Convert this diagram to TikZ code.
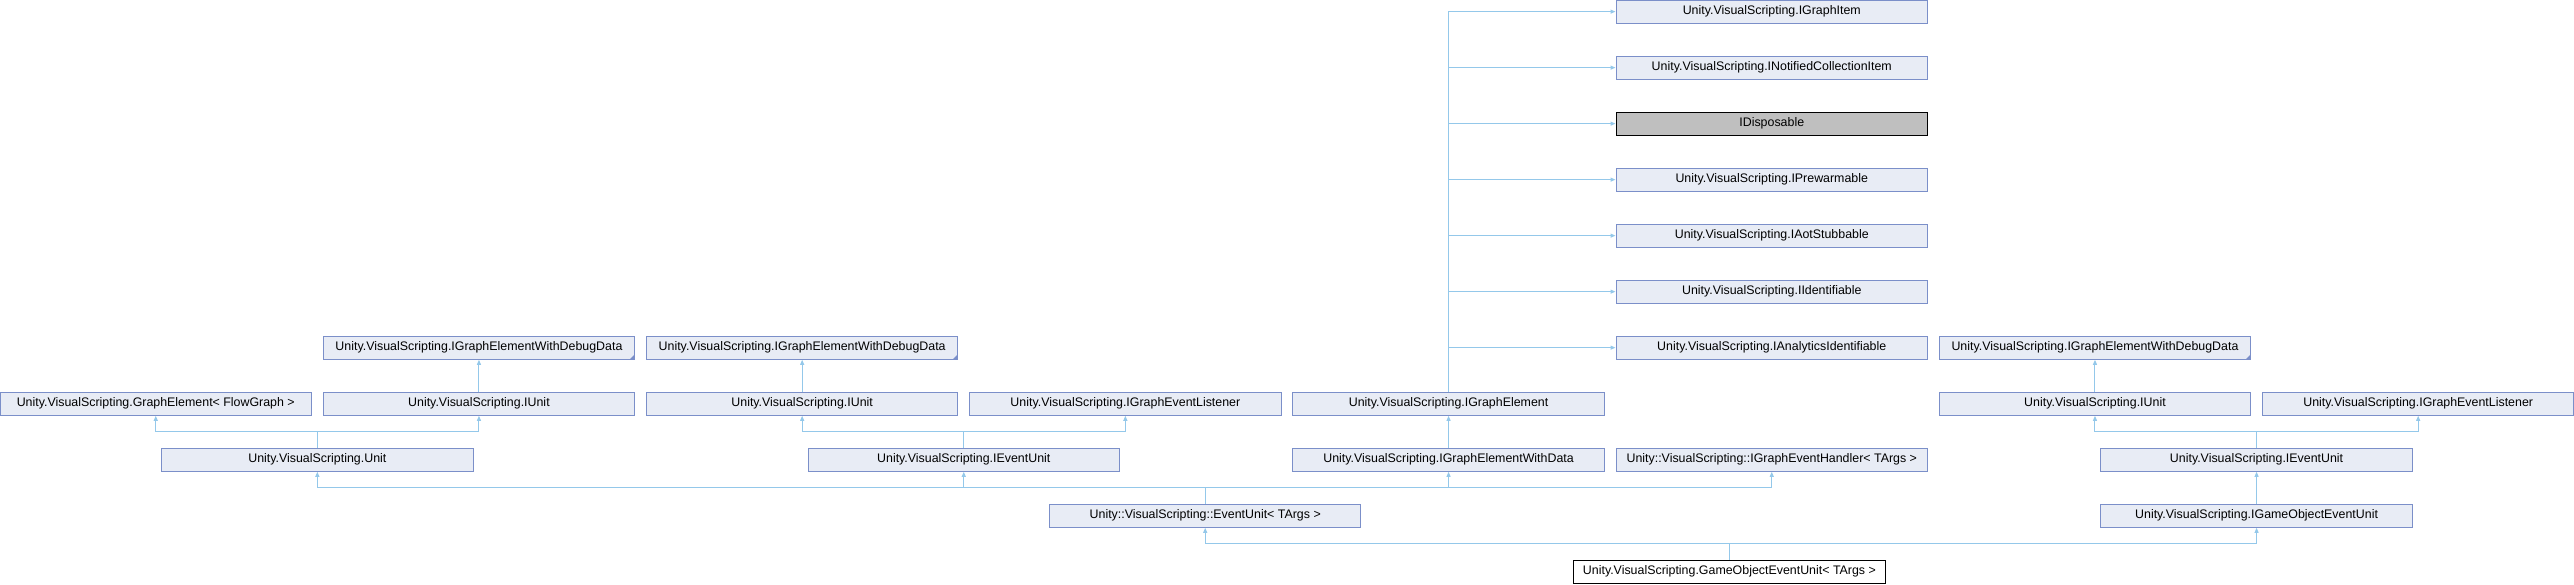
\documentclass[tikz,border=0pt]{standalone}
\usepackage{fontspec}
\setmainfont{Liberation Sans}
\usetikzlibrary{arrows.meta, positioning, calc}
\definecolor{boxfill}{HTML}{E8ECF5}
\definecolor{boxline}{HTML}{7B8FC9}
\definecolor{edgeblue}{HTML}{94C8EA}

\begin{document}
\begin{tikzpicture}[x=1pt, y=-1pt, >={Triangle[length=5pt,width=4pt]},
      cls/.style = {shape=rectangle, draw=boxline, fill=boxfill, line width=1pt,
        minimum width=311.5pt, minimum height=23.3pt, inner sep=0pt,
        font=\fontsize{12.4}{14}\selectfont},
      ext/.style = {cls, draw=black, fill=gray!50},
      self/.style = {cls, draw=black, fill=white},
      trunc/.style = {path picture={\fill[boxline] (path picture bounding box.south east)
        -- ++(-5pt,0pt) -- ++(5pt,5pt) -- cycle;}},
      edge/.style = {draw=edgeblue, line width=1pt, ->}]
    \useasboundingbox (0,0) rectangle (2574,584);

    % right column of interfaces
    \node[cls] (graphitem) at (1771.75,11.65) {Unity.VisualScripting.IGraphItem};
    \node[cls] (notified) at (1771.75,67.65) {Unity.VisualScripting.INotifiedCollectionItem};
    \node[ext] (disposable) at (1771.75,123.65) {IDisposable};
    \node[cls] (prewarm) at (1771.75,179.65) {Unity.VisualScripting.IPrewarmable};
    \node[cls] (aot) at (1771.75,235.65) {Unity.VisualScripting.IAotStubbable};
    \node[cls] (identif) at (1771.75,291.65) {Unity.VisualScripting.IIdentifiable};
    \node[cls] (analytics) at (1771.75,347.65) {Unity.VisualScripting.IAnalyticsIdentifiable};

    % debug data row
    \node[cls, trunc] (debugA) at (478.95,347.65) {Unity.VisualScripting.IGraphElementWithDebugData};
    \node[cls, trunc] (debugB) at (802.15,347.65) {Unity.VisualScripting.IGraphElementWithDebugData};
    \node[cls, trunc] (debugC) at (2094.95,347.65) {Unity.VisualScripting.IGraphElementWithDebugData};

    % second row
    \node[cls] (graphelem) at (155.75,403.65) {Unity.VisualScripting.GraphElement< FlowGraph >};
    \node[cls] (iunitA) at (478.95,403.65) {Unity.VisualScripting.IUnit};
    \node[cls] (iunitB) at (802.15,403.65) {Unity.VisualScripting.IUnit};
    \node[cls] (listenerA) at (1125.35,403.65) {Unity.VisualScripting.IGraphEventListener};
    \node[cls] (igraphelem) at (1448.55,403.65) {Unity.VisualScripting.IGraphElement};
    \node[cls] (iunitC) at (2094.95,403.65) {Unity.VisualScripting.IUnit};
    \node[cls] (listenerB) at (2418.15,403.65) {Unity.VisualScripting.IGraphEventListener};

    % third row
    \node[cls] (unit) at (317.35,459.65) {Unity.VisualScripting.Unit};
    \node[cls] (ieventA) at (963.75,459.65) {Unity.VisualScripting.IEventUnit};
    \node[cls] (withdata) at (1448.55,459.65) {Unity.VisualScripting.IGraphElementWithData};
    \node[cls] (handler) at (1771.75,459.65) {Unity::VisualScripting::IGraphEventHandler< TArgs >};
    \node[cls] (ieventB) at (2256.55,459.65) {Unity.VisualScripting.IEventUnit};

    % bottom rows
    \node[cls] (eventunit) at (1205.2,515.65) {Unity::VisualScripting::EventUnit< TArgs >};
    \node[cls] (igoeventunit) at (2256.55,515.65) {Unity.VisualScripting.IGameObjectEventUnit};
    \node[self] (goeventunit) at (1729.4,571.65) {Unity.VisualScripting.GameObjectEventUnit< TArgs >};

    % inheritance
    \draw[edge] (igraphelem.north) |- (graphitem.west);
    \draw[edge] (igraphelem.north) |- (notified.west);
    \draw[edge] (igraphelem.north) |- (disposable.west);
    \draw[edge] (igraphelem.north) |- (prewarm.west);
    \draw[edge] (igraphelem.north) |- (aot.west);
    \draw[edge] (igraphelem.north) |- (identif.west);
    \draw[edge] (igraphelem.north) |- (analytics.west);
    \draw[edge] (iunitA.north) -- (debugA.south);
    \draw[edge] (iunitB.north) -- (debugB.south);
    \draw[edge] (iunitC.north) -- (debugC.south);
    \draw[edge] (unit.north) -- ++(0,-16.35) -| (graphelem.south);
    \draw[edge] (unit.north) -- ++(0,-16.35) -| (iunitA.south);
    \draw[edge] (ieventA.north) -- ++(0,-16.35) -| (iunitB.south);
    \draw[edge] (ieventA.north) -- ++(0,-16.35) -| (listenerA.south);
    \draw[edge] (withdata.north) -- (igraphelem.south);
    \draw[edge] (ieventB.north) -- ++(0,-16.35) -| (iunitC.south);
    \draw[edge] (ieventB.north) -- ++(0,-16.35) -| (listenerB.south);
    \draw[edge] (igoeventunit.north) -- (ieventB.south);
    \draw[edge] (eventunit.north) -- ++(0,-16.35) -| (unit.south);
    \draw[edge] (eventunit.north) -- ++(0,-16.35) -| (ieventA.south);
    \draw[edge] (eventunit.north) -- ++(0,-16.35) -| (withdata.south);
    \draw[edge] (eventunit.north) -- ++(0,-16.35) -| (handler.south);
    \draw[edge] (goeventunit.north) -- ++(0,-16.35) -| (eventunit.south);
    \draw[edge] (goeventunit.north) -- ++(0,-16.35) -| (igoeventunit.south);
\end{tikzpicture}
\end{document}
